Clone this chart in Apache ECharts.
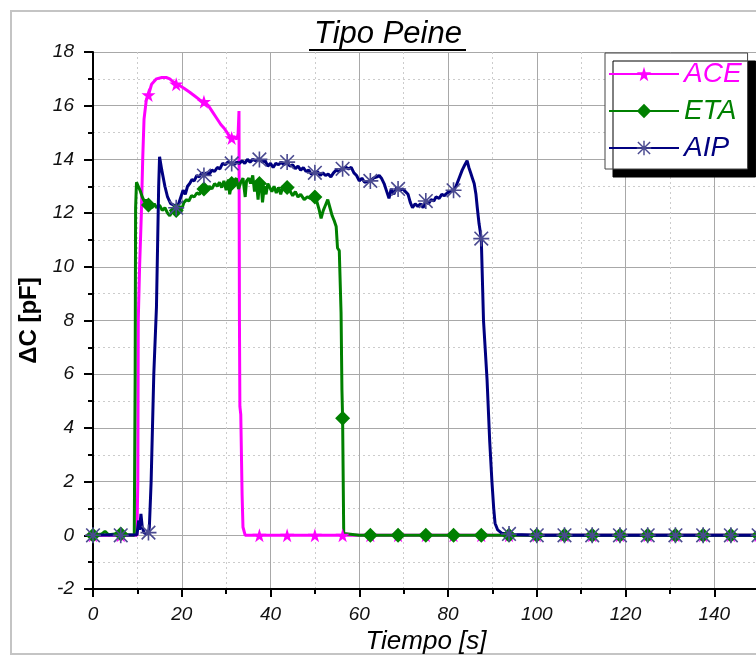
<!DOCTYPE html>
<html><head><meta charset="utf-8">
<script src="https://cdn.jsdelivr.net/npm/echarts@6/dist/echarts.min.js"></script>
<style>html,body{margin:0;padding:0;background:#fff}#c{width:756px;height:656px}</style>
</head><body><div id="c"></div>
<script>
const titleText = 'Tipo Peine';
const xName = 'Tiempo [s]';
const yName = '\u0394C [pF]';
const seriesNames = ['ACE', 'ETA', 'AIP'];

// times where the markers sit (same for all series)
const markerT = [0, 6.25, 12.5, 18.75, 25, 31.25, 37.5, 43.75, 50, 56.25, 62.5, 68.75, 75, 81.25, 87.5, 93.75, 100, 106.25, 112.5, 118.75, 125, 131.25, 137.5, 143.75, 150];
const aceMarkV = [0, 0, 16.4, 16.8, 16.15, 14.8, 0, 0, 0, 0, 0, 0, 0, 0, 0, 0, 0, 0, 0, 0, 0, 0, 0, 0, 0];
const etaMarkV = [0, 0.05, 12.3, 12.1, 12.9, 13.1, 13.1, 12.95, 12.6, 4.36, 0, 0, 0, 0, 0, 0, 0, 0, 0, 0, 0, 0, 0, 0, 0];
const aipMarkV = [0, 0, 0.1, 12.2, 13.4, 13.85, 14.0, 13.9, 13.5, 13.65, 13.2, 12.9, 12.45, 12.85, 11.05, 0.05, 0, 0, 0, 0, 0, 0, 0, 0, 0];

// ACE trace
const aceT = [0, 5, 9.9, 10.1, 10.2, 10.5, 10.9, 11.2, 11.5, 12.0, 13.2, 14.3, 15.5, 16.5, 17.3, 18.0, 19.5, 20.5, 21.8, 23.0, 24.2, 26.0, 27.0, 27.8, 28.8, 29.6, 30.4, 31.0, 31.8, 32.4, 32.7, 32.9, 33.0, 33.1, 33.3, 33.6, 33.8, 34.3, 40, 60, 90, 120, 155];
const aceV = [0, 0, 0, 2, 8, 10, 12, 14, 15.5, 16.2, 16.8, 17.0, 17.05, 17.05, 17.0, 16.9, 16.75, 16.65, 16.5, 16.35, 16.2, 16.0, 15.75, 15.55, 15.3, 15.15, 14.95, 14.8, 14.85, 14.75, 14.95, 15.8, 8, 4.8, 4.5, 1.5, 0.3, 0, 0, 0, 0, 0, 0];

// ETA trace
const etaT = [0, 2, 2.7, 3.5, 5, 7.5, 9.3, 9.5, 9.6, 9.8, 10.2, 10.6, 11.1, 11.7, 12.0, 13.3, 13.8, 14.3, 15.0, 15.6, 16.2, 16.8, 17.3, 17.9, 18.3, 19.5, 20.0, 20.5, 21.1, 21.6, 22.2, 22.8, 23.4, 24.0, 24.5, 25.6, 26.2, 26.8, 27.4, 28.0, 28.5, 29.0, 29.5, 30.0, 30.5, 30.8, 31.8, 32.3, 32.8, 33.3, 33.8, 34.3, 34.6, 35.1, 35.5, 36.0, 36.4, 36.8, 37.2, 37.9, 38.2, 38.6, 39.0, 39.4, 39.8, 40.3, 40.8, 41.3, 41.8, 42.3, 42.8, 43.3, 44.3, 45.0, 45.6, 46.2, 46.8, 47.6, 48.3, 49.0, 49.6, 50.5, 51.0, 51.4, 51.9, 52.4, 52.9, 53.4, 53.9, 54.4, 54.8, 55.1, 55.5, 55.9, 56.1, 56.5, 56.7, 60, 90, 120, 155];
const etaV = [0, 0.05, 0.15, 0.02, 0.05, 0.02, 0, 6, 12.2, 13.15, 13.0, 12.85, 12.6, 12.4, 12.5, 12.2, 12.35, 12.2, 12.3, 12.1, 12.2, 12.0, 11.9, 12.1, 12.0, 12.25, 12.15, 12.4, 12.5, 12.45, 12.65, 12.6, 12.75, 12.7, 12.9, 12.85, 13.0, 12.9, 13.1, 13.0, 13.15, 12.95, 13.2, 12.85, 13.25, 12.7, 13.2, 13.3, 12.9, 13.15, 13.3, 12.6, 13.2, 13.3, 13.1, 13.4, 12.8, 13.2, 12.5, 13.0, 12.4, 13.0, 12.7, 13.1, 13.1, 12.8, 13.0, 12.75, 12.95, 12.7, 13.0, 12.9, 12.85, 12.65, 12.8, 12.6, 12.7, 12.5, 12.6, 12.55, 12.7, 12.4, 12.1, 11.8, 12.1, 12.3, 12.5, 12.2, 11.9, 11.7, 11.5, 10.7, 10.6, 8.3, 5.4, 0.07, 0, 0, 0, 0, 0];

// AIP trace
const aipT = [0, 5, 9.9, 10.3, 10.5, 10.8, 11.1, 11.5, 12.0, 12.7, 13.1, 13.7, 14.3, 14.8, 15.0, 15.5, 16.2, 16.8, 17.5, 18.2, 19.3, 19.8, 20.3, 20.8, 21.3, 21.8, 22.3, 22.8, 23.4, 24.0, 24.5, 25.6, 26.2, 26.8, 27.4, 28.0, 28.6, 29.2, 29.8, 30.4, 31.8, 32.4, 33.0, 33.6, 34.2, 34.8, 35.4, 36.0, 36.6, 38.2, 38.8, 39.4, 40.0, 40.6, 41.2, 41.8, 42.4, 43.0, 44.4, 45.0, 45.6, 46.2, 46.8, 47.4, 48.0, 48.6, 49.2, 50.6, 51.2, 51.8, 52.4, 53.0, 53.6, 54.2, 54.8, 55.4, 57.0, 57.6, 58.2, 58.8, 59.4, 60.0, 60.6, 61.2, 63.2, 64.0, 64.5, 65.0, 65.6, 66.2, 66.7, 67.2, 67.8, 68.4, 69.2, 69.8, 70.4, 71.0, 71.5, 72.0, 72.6, 73.2, 73.8, 74.4, 75.6, 76.2, 76.8, 77.3, 78.0, 78.6, 79.2, 79.8, 80.4, 81.8, 82.5, 83.2, 83.8, 84.3, 84.7, 85.1, 85.5, 85.9, 86.3, 86.6, 87.0, 88.0, 88.8, 89.4, 89.9, 90.3, 90.6, 91.2, 92.1, 95, 120, 155];
const aipV = [0, 0.02, 0.02, 0.55, 0.2, 0.8, 0.3, 0.1, 0.05, 0.3, 2, 6, 8.5, 13, 14.1, 13.6, 13.0, 12.6, 12.35, 12.3, 12.35, 12.6, 12.85, 12.7, 13.0, 13.1, 13.25, 13.2, 13.4, 13.35, 13.5, 13.5, 13.45, 13.6, 13.55, 13.7, 13.65, 13.85, 13.8, 13.9, 13.8, 13.9, 13.85, 13.95, 13.85, 14.0, 13.9, 14.0, 13.95, 13.9, 13.95, 13.75, 13.85, 13.7, 13.85, 13.8, 13.9, 13.8, 13.75, 13.8, 13.65, 13.75, 13.6, 13.7, 13.55, 13.6, 13.45, 13.55, 13.4, 13.5, 13.4, 13.45, 13.35, 13.5, 13.6, 13.55, 13.7, 13.65, 13.7, 13.5, 13.4, 13.2, 13.3, 13.15, 13.3, 13.35, 13.4, 13.3, 13.1, 12.8, 12.55, 12.9, 12.7, 12.95, 12.85, 12.9, 12.8, 12.7, 12.4, 12.2, 12.35, 12.25, 12.35, 12.2, 12.35, 12.5, 12.45, 12.6, 12.55, 12.7, 12.65, 12.75, 12.8, 13.0, 13.3, 13.6, 13.8, 13.95, 13.7, 13.5, 13.3, 13.1, 12.7, 12.2, 11.6, 8.0, 5.8, 3.5, 2.0, 1.0, 0.45, 0.2, 0.08, 0.03, 0, 0];

const xTicks = {min: 0, max: 160, interval: 20};
const yTicks = {min: -2, max: 18, interval: 2};

const starPath = 'path://M50,0 L61,35 L98,35 L68,57 L79,91 L50,70 L21,91 L32,57 L2,35 L39,35 Z';
const astPath = 'path://M45,0 L55,0 L55,100 L45,100 Z M0,45 L100,45 L100,55 L0,55 Z M11,4 L96,89 L89,96 L4,11 Z M89,4 L96,11 L11,96 L4,89 Z';

function build(t, v, mv) {
  const pts = t.map((x, i) => ({value: [x, v[i]], symbol: 'none'}));
  markerT.forEach((x, i) => pts.push({value: [x, mv[i]]}));
  pts.sort((a, b) => a.value[0] - b.value[0]);
  return pts;
}

const FONT = 'Liberation Sans';
const chart = echarts.init(document.getElementById('c'), null, {renderer: 'canvas'});
chart.setOption({
  backgroundColor: '#fff',
  animation: false,
  title: {
    text: titleText, left: 309, top: 14,
    textStyle: {fontFamily: FONT, fontSize: 31, fontStyle: 'italic', fontWeight: 'normal', color: '#000'}
  },
  graphic: [
    {type: 'rect', shape: {x: 11, y: 11, width: 800, height: 643}, style: {fill: 'none', stroke: '#c4c4c4', lineWidth: 2}, silent: true, z: -1},
    {type: 'line', shape: {x1: 309, y1: 50, x2: 466, y2: 50}, style: {stroke: '#000', lineWidth: 2}, silent: true}
  ],
  legend: {
    data: [
      {name: seriesNames[0], textStyle: {color: '#ff00ff'}},
      {name: seriesNames[1], textStyle: {color: '#008000'}},
      {name: seriesNames[2], textStyle: {color: '#000080'}}
    ],
    orient: 'vertical', left: 605, top: 53,
    itemWidth: 70, itemHeight: 18, itemGap: 7,
    padding: [6, 6, 6, 3],
    backgroundColor: '#fff', borderColor: '#444', borderWidth: 1,
    shadowColor: '#000', shadowBlur: 0, shadowOffsetX: 8, shadowOffsetY: 8,
    textStyle: {fontFamily: FONT, fontSize: 28, fontStyle: 'italic', lineHeight: 30, padding: [0, 0, 0, 0]}
  },
  grid: {left: 93, top: 52, bottom: 67, width: 710, containLabel: false, outerBoundsMode: 'none'},
  xAxis: {
    type: 'value', min: xTicks.min, max: xTicks.max, interval: xTicks.interval,
    name: xName, nameLocation: 'middle', nameGap: 34,
    nameTextStyle: {fontFamily: FONT, fontSize: 26, fontStyle: 'italic', color: '#000', padding: [0, 44, 0, 0]},
    axisLine: {show: true, onZero: false, lineStyle: {color: '#000', width: 2}},
    axisTick: {show: true, inside: false, length: 8, lineStyle: {color: '#000', width: 2}},
    minorTick: {show: true, splitNumber: 2, length: 5, lineStyle: {color: '#000', width: 2}},
    axisLabel: {fontFamily: FONT, fontSize: 19, fontStyle: 'italic', color: '#111', margin: 16},
    splitLine: {show: true, lineStyle: {color: '#a8a8a8', width: 1}},
    minorSplitLine: {show: true, lineStyle: {color: '#cccccc', width: 1, type: [2, 3]}}
  },
  yAxis: {
    type: 'value', min: yTicks.min, max: yTicks.max, interval: yTicks.interval,
    name: yName, nameLocation: 'middle', nameGap: 52,
    nameTextStyle: {fontFamily: FONT, fontSize: 24, fontWeight: 'bold', color: '#000'},
    axisLine: {show: true, onZero: false, lineStyle: {color: '#000', width: 2}},
    axisTick: {show: true, inside: false, length: 9, lineStyle: {color: '#000', width: 2}},
    minorTick: {show: true, splitNumber: 2, length: 5, lineStyle: {color: '#000', width: 2}},
    axisLabel: {fontFamily: FONT, fontSize: 19, fontStyle: 'italic', color: '#111', margin: 19},
    splitLine: {show: true, lineStyle: {color: '#a8a8a8', width: 1}},
    minorSplitLine: {show: true, lineStyle: {color: '#cccccc', width: 1, type: [2, 3]}}
  },
  series: [
    {
      name: seriesNames[0], type: 'line', data: build(aceT, aceV, aceMarkV),
      symbol: starPath, symbolSize: 14, showSymbol: true,
      lineStyle: {color: '#ff00ff', width: 3}, itemStyle: {color: '#ff00ff'}
    },
    {
      name: seriesNames[1], type: 'line', data: build(etaT, etaV, etaMarkV),
      symbol: 'diamond', symbolSize: 15, showSymbol: true,
      lineStyle: {color: '#008000', width: 3}, itemStyle: {color: '#008000'}
    },
    {
      name: seriesNames[2], type: 'line', data: build(aipT, aipV, aipMarkV),
      symbol: astPath, symbolSize: 16, showSymbol: true,
      lineStyle: {color: '#000080', width: 3}, itemStyle: {color: '#4a4a90'}
    }
  ]
});
</script>
</body></html>
